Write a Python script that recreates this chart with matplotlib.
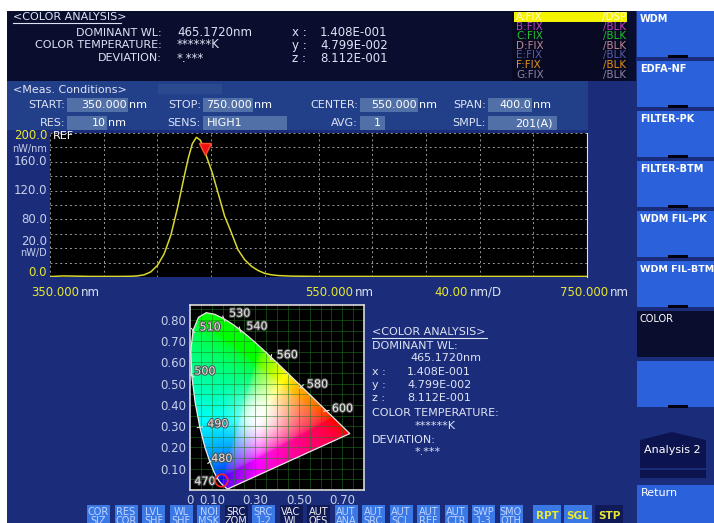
import numpy as np
import matplotlib
matplotlib.use('Agg')
import matplotlib.pyplot as plt
from matplotlib.patches import Rectangle, Polygon
import matplotlib.patheffects as pe

# trace A (nm, nW/nm)
wl = [350, 360, 380, 400, 410, 415, 420, 425, 430, 435, 440, 445, 450, 453, 456,
      459, 462, 465, 468, 471, 475, 480, 485, 490, 495, 500, 505, 510, 515, 520,
      530, 550, 600, 650, 700, 750]
pw = [0.6, 1.5, 0.8, 0.8, 1.0, 1.5, 3, 7, 16, 32, 58, 96, 140, 165, 185,
      194, 190, 176, 160, 144, 118, 85, 62, 38, 24, 15, 9, 5, 3, 2,
      1.2, 0.8, 0.8, 0.8, 0.8, 0.8]

dom_wl = 465.172
chroma_x = 0.1408
chroma_y = 0.04799
chroma_z = 0.8112

# CIE 1931 spectral locus
loc_nm = [380, 400, 420, 440, 450, 460, 465, 470, 475, 480, 485, 490, 495, 500,
          505, 510, 515, 520, 525, 530, 535, 540, 545, 550, 555, 560, 565, 570,
          575, 580, 585, 590, 595, 600, 610, 620, 630, 640, 650, 660, 680, 700]
loc_x = [0.1741, 0.1733, 0.1714, 0.1644, 0.1566, 0.1440, 0.1355, 0.1241, 0.1096,
         0.0913, 0.0687, 0.0454, 0.0235, 0.0082, 0.0039, 0.0139, 0.0389, 0.0743,
         0.1142, 0.1547, 0.1929, 0.2296, 0.2658, 0.3016, 0.3373, 0.3731, 0.4087,
         0.4441, 0.4788, 0.5125, 0.5448, 0.5752, 0.6029, 0.6270, 0.6658, 0.6915,
         0.7079, 0.7190, 0.7260, 0.7300, 0.7334, 0.7347]
loc_y = [0.0050, 0.0048, 0.0051, 0.0109, 0.0177, 0.0297, 0.0399, 0.0578, 0.0868,
         0.1327, 0.2007, 0.2950, 0.4127, 0.5384, 0.6548, 0.7502, 0.8120, 0.8338,
         0.8262, 0.8059, 0.7816, 0.7543, 0.7243, 0.6923, 0.6589, 0.6245, 0.5896,
         0.5547, 0.5202, 0.4866, 0.4544, 0.4242, 0.3965, 0.3725, 0.3340, 0.3083,
         0.2920, 0.2809, 0.2740, 0.2700, 0.2666, 0.2653]
loc_labels = [470, 480, 490, 500, 510, 530, 540, 560, 580, 600]
lab_off = [(-12, -4), (12, 3), (18, 3), (13, 4), (17, 3), (16, 5), (17, 3), (16, 2), (16, 2), (16, 2)]

ytick_vals = [0, 80, 120, 160, 200]
ytick_txt = ['0.0', '80.0', '120.0', '160.0', '200.0']
cx_ticks = [0, 0.10, 0.30, 0.50, 0.70]
cx_txt = ['0', '0.10', '0.30', '0.50', '0.70']
cy_ticks = [0.10, 0.20, 0.30, 0.40, 0.50, 0.60, 0.70, 0.80]

traces = ['A', 'B', 'C', 'D', 'E', 'F', 'G']
trace_mode = ['/DSP', '/BLK', '/BLK', '/BLK', '/BLK', '/BLK', '/BLK']
trace_col = ['#fffbd0', '#c040c0', '#20c030', '#c08898', '#5a5aa8', '#e09020', '#9080a8']

menu = ['WDM', 'EDFA-NF', 'FILTER-PK', 'FILTER-BTM', 'WDM FIL-PK', 'WDM FIL-BTM', 'COLOR', '']
keys_top = ['COR', 'RES', 'LVL', 'WL', 'NOI', 'SRC', 'SRC', 'VAC', 'AUT', 'AUT', 'AUT',
            'AUT', 'AUT', 'AUT', 'SWP', 'SMO']
keys_bot = ['SIZ', 'COR', 'SHF', 'SHF', 'MSK', 'ZOM', '1-2', 'WL', 'OFS', 'ANA', 'SRC',
            'SCL', 'REF', 'CTR', '1-3', 'OTH']
keys_dark = [5, 7, 8]

NAVY = '#1b2d7a'
HEAD = '#0a0e2e'
PANEL = '#22408a'
FIELD = '#5270a8'
BTN = '#2b62dc'
TXT = '#dde3f4'
YEL = '#e8e830'
GRY = '#c8d0ea'

fig = plt.figure(figsize=(7.14, 5.23), dpi=100)
fig.patch.set_facecolor('white')
bg = fig.add_axes([0, 0, 1, 1], zorder=0)
bg.set_xlim(0, 714)
bg.set_ylim(523, 0)
bg.axis('off')


def box(x, y, w, h, c, **kw):
    bg.add_patch(Rectangle((x, y), w, h, facecolor=c, edgecolor='none', **kw))


def txt(x, y, s, c=TXT, size=8, **kw):
    kw.setdefault('va', 'center')
    bg.text(x, y, s, color=c, fontsize=size, **kw)


def sci(v):
    return ('%.3E' % v).replace('E-0', 'E-00')


# panels
box(7, 11, 707, 512, NAVY)
box(7, 11, 629, 70, HEAD)
box(7, 81, 581, 49, PANEL)
box(512, 11, 116, 70, '#070a22')

# header
txt(13, 17, '<COLOR ANALYSIS>')
bg.plot([13, 121], [23, 23], color=TXT, lw=0.8)
txt(162, 33, 'DOMINANT WL:', ha='right')
txt(162, 45, 'COLOR TEMPERATURE:', ha='right')
txt(162, 58, 'DEVIATION:', ha='right')
txt(177, 33, '%.4fnm' % dom_wl, size=8.5)
txt(177, 45, '******K', size=8.5)
txt(177, 58, '*.***', size=8.5)
for i, (lab, v) in enumerate(zip(['x', 'y', 'z'], [chroma_x, chroma_y, chroma_z])):
    txt(292, 33 + 12.5 * i, lab + ' :', size=8.5)
    txt(320, 33 + 12.5 * i, sci(v), size=8.5)

# trace list
box(514, 12, 113, 10, '#f4f400')
for i, (t, m, c) in enumerate(zip(traces, trace_mode, trace_col)):
    txt(516, 17 + 9.6 * i, t + ':FIX', c=c, size=7.5)
    txt(626, 17 + 9.6 * i, m, c=c, size=7.5, ha='right')

# measurement conditions
txt(13, 90, '<Meas. Conditions>')
box(158, 84, 64, 10, '#2a4a90')
for (x, w, y) in [(67, 61, 98), (203, 50, 98), (360, 58, 98), (488, 44, 98),
                  (67, 40, 116), (203, 84, 116), (360, 25, 116), (488, 69, 116)]:
    box(x, y, w, 14, FIELD)
for lab, x, y in [('START:', 65, 105), ('STOP:', 201, 105), ('CENTER:', 358, 105),
                  ('SPAN:', 486, 105), ('RES:', 65, 123), ('SENS:', 201, 123),
                  ('AVG:', 358, 123), ('SMPL:', 486, 123)]:
    txt(x, y, lab, ha='right')
for s, x, y in [('350.000', 127, 105), ('750.000', 252, 105), ('550.000', 417, 105),
                ('400.0', 531, 105), ('10', 106, 123)]:
    txt(x, y, s, c='white', ha='right')
    txt(x + 2, y, 'nm', c='white')
txt(207, 123, 'HIGH1', c='white')
txt(377, 123, '1', c='white', ha='center')
txt(553, 123, '201(A)', c='white', ha='right')

# spectrum
ax = fig.add_axes([50 / 714, 1 - 277 / 523, 537 / 714, 144 / 523], zorder=2)
ax.set_facecolor('black')
ax.plot(wl, pw, color='#d8d830', lw=1.1)
ax.plot([dom_wl], [np.interp(dom_wl, wl, pw) + 3], marker='v', color='#ee1010',
        markersize=8, markeredgecolor='#ff5030')
ax.set_xlim(350, 750)
ax.set_ylim(0, 200)
ax.set_xticks(np.arange(350, 751, 40))
ax.set_yticks(np.arange(0, 201, 20))
ax.grid(True, color='#9a9a9a', lw=0.7, ls=(0, (2, 3)))
ax.tick_params(length=0, labelbottom=False, labelleft=False)
for s in ['top', 'left', 'bottom']:
    ax.spines[s].set_visible(False)
ax.spines['right'].set_color('#e0e0e0')
yax = ('axes fraction', 'data')
for v, s in zip(ytick_vals, ytick_txt):
    c = YEL if v in (0, 200) else GRY
    off = -2 if v == 200 else (3 if v == 0 else 0)
    ax.annotate(s, (0, v), xycoords=yax, xytext=(-2, off), textcoords='offset points',
                ha='right', va='center', color=c, fontsize=8.5, annotation_clip=False)
ax.annotate('20.0', (0, 40), xycoords=yax, xytext=(-2, 0), textcoords='offset points',
            ha='right', va='bottom', color=GRY, fontsize=8.5, annotation_clip=False)
ax.annotate('nW/D', (0, 40), xycoords=yax, xytext=(-2, 0), textcoords='offset points',
            ha='right', va='top', color=GRY, fontsize=7, annotation_clip=False)
ax.annotate('nW/nm', (0, 200), xycoords=yax, xytext=(-2, -8), textcoords='offset points',
            ha='right', va='top', color=GRY, fontsize=7, annotation_clip=False)
ax.annotate('REF', (0, 200), xycoords=yax, xytext=(2, -2), textcoords='offset points',
            ha='left', va='center', color='white', fontsize=8, annotation_clip=False)

txt(79, 292, '350.000', c=YEL, ha='right', size=8.5)
txt(81, 292, 'nm', size=8.5)
txt(353, 292, '550.000', c=YEL, ha='right', size=8.5)
txt(355, 292, 'nm', size=8.5)
txt(468, 292, '40.00', c=YEL, ha='right', size=8.5)
txt(470, 292, 'nm/D', size=8.5)
txt(608, 292, '750.000', c=YEL, ha='right', size=8.5)
txt(610, 292, 'nm', size=8.5)

# chromaticity diagram
cx = fig.add_axes([190 / 714, 1 - 490 / 523, 174 / 714, 185 / 523], zorder=2)
cx.set_facecolor('black')
cx.set_xlim(0, 0.80)
cx.set_ylim(0, 0.87)
gx, gy = np.meshgrid(np.linspace(0, 0.8, 400), np.linspace(0, 0.87, 400))
yy = np.maximum(gy, 1e-3)
X = gx / yy
Z = (1 - gx - gy) / yy
r = 3.2406 * X - 1.5372 - 0.4986 * Z
g = -0.9689 * X + 1.8758 + 0.0415 * Z
b = 0.0557 * X - 0.2040 + 1.0570 * Z
rgb = np.clip(np.dstack([r, g, b]), 0, None)
rgb = rgb / np.maximum(rgb.max(axis=2, keepdims=True), 1e-6)
rgb = rgb ** (1 / 2.2)
w = np.exp(-((gx - 0.32) ** 2 + (gy - 0.35) ** 2) / 0.012)[..., None] * 0.8
rgb = rgb * (1 - w) + w
im = cx.imshow(rgb, extent=[0, 0.8, 0, 0.87], origin='lower', aspect='auto',
               interpolation='bilinear')
poly = Polygon(np.column_stack([loc_x, loc_y]), closed=True, facecolor='none',
               edgecolor='#f0e8e8', lw=0.9, zorder=3)
cx.add_patch(poly)
im.set_clip_path(poly)
for v in np.arange(0.05, 0.8, 0.05):
    cx.axvline(v, color='#1f7a1f', lw=0.6, alpha=0.6, zorder=2)
for v in np.arange(0.05, 0.87, 0.05):
    cx.axhline(v, color='#1f7a1f', lw=0.6, alpha=0.6, zorder=2)
for nm, (dx, dy) in zip(loc_labels, lab_off):
    k = loc_nm.index(nm)
    px, py = loc_x[k], loc_y[k]
    d = np.array([px - 0.33, py - 0.33])
    d = d / np.hypot(*d) * 0.012
    cx.plot([px - d[0], px + d[0]], [py - d[1], py + d[1]], color='#e8e8e8', lw=0.8, zorder=4)
    cx.annotate(str(nm), (px, py), xytext=(dx / 1.389, dy / 1.389), textcoords='offset points',
                ha='center', va='center', color='#e8e8e8', fontsize=8, zorder=5,
                path_effects=[pe.withStroke(linewidth=1.5, foreground='#505050')])
cx.plot([chroma_x], [chroma_y], marker='o', mfc='none', mec='#ff2020', ms=9, mew=1.2, zorder=6)
cx.set_xticks(cx_ticks)
cx.set_xticklabels(cx_txt)
cx.set_yticks(cy_ticks)
cx.set_yticklabels(['%.2f' % v for v in cy_ticks])
cx.tick_params(length=0, colors=GRY, labelsize=8.5, pad=3)
for s in cx.spines.values():
    s.set_color('#d8d8d8')
    s.set_linewidth(1.2)

# colour analysis block
txt(372, 332, '<COLOR ANALYSIS>')
bg.plot([372, 487], [338, 338], color=TXT, lw=0.8)
txt(372, 346, 'DOMINANT WL:')
txt(410, 358, '%.4fnm' % dom_wl)
for i, (lab, v) in enumerate(zip(['x', 'y', 'z'], [chroma_x, chroma_y, chroma_z])):
    txt(372, 372 + 13 * i, lab + ' :')
    txt(407, 372 + 13 * i, sci(v))
txt(372, 413, 'COLOR TEMPERATURE:')
txt(415, 426, '******K')
txt(372, 440, 'DEVIATION:')
txt(415, 452, '*.***')

# soft key menu
for i, name in enumerate(menu):
    top = 11 + 50 * i
    c = HEAD if name == 'COLOR' else BTN
    box(637, top, 77, 46, c)
    if name != 'COLOR':
        box(668, top + 44, 20, 3, '#000010')
    txt(640, top + 8, name, c='white', size=6.8 if len(name) > 10 else 7,
        weight='bold' if name != 'COLOR' else 'normal')
bg.add_patch(Polygon([(640, 440), (672, 432), (706, 440), (706, 468), (640, 468)],
                     closed=True, facecolor='#0c1450', edgecolor='none'))
box(640, 470, 66, 8, '#0c1450')
txt(644, 450, 'Analysis 2', c='white')
box(637, 485, 77, 38, BTN)
txt(641, 493, 'Return', c='white')

# bottom keys
for i, (a, b2) in enumerate(zip(keys_top, keys_bot)):
    x = 87 + i * 27.5
    c = '#101a58' if i in keys_dark else '#3a78e6'
    box(x, 505, 23, 18, c)
    tc = '#f0f0f0' if i in keys_dark else '#c0d4ff'
    txt(x + 11.5, 512, a, c=tc, size=7, ha='center')
    txt(x + 11.5, 521, b2, c=tc, size=7, ha='center')
for i, k in enumerate(['RPT', 'SGL', 'STP']):
    x = 533 + i * 31
    box(x, 505, 28, 18, '#101a58' if k == 'STP' else '#3a78e6')
    txt(x + 14, 516, k, c=YEL, size=7.5, ha='center', weight='bold')

fig.savefig('out.png', dpi=100, facecolor=fig.get_facecolor())
